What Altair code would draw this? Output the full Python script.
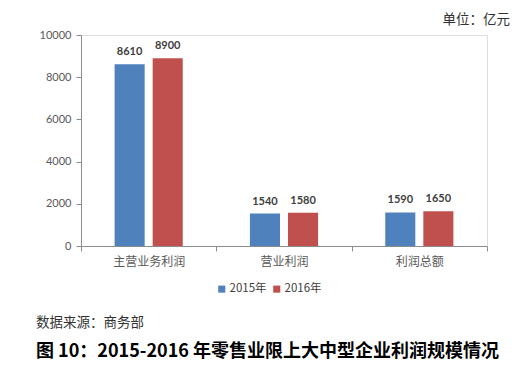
import altair as alt
import pandas as pd

categories = ["主营业务利润", "营业利润", "利润总额"]
years = ["2015年", "2016年"]
values_2015 = [8610, 1540, 1590]
values_2016 = [8900, 1580, 1650]
y_ticks = [0, 2000, 4000, 6000, 8000, 10000]

rows = []
for c, a, b in zip(categories, values_2015, values_2016):
    rows.append({"cat": c, "year": years[0], "v": a})
    rows.append({"cat": c, "year": years[1], "v": b})
df = pd.DataFrame(rows)

NUM_FONT = "Lato"
CJK = "Noto Sans CJK SC"

x = alt.X("cat:N", sort=categories, title=None,
          scale=alt.Scale(paddingInner=0, paddingOuter=0),
          axis=alt.Axis(labelAngle=0, labelFont=CJK, labelFontSize=12, labelColor="#595959",
                        domainColor="#8c8c8c", tickColor="#8c8c8c", tickSize=5,
                        tickBand="extent", labelPadding=5, grid=False))
xo = alt.XOffset("year:N", sort=years,
                 scale=alt.Scale(paddingInner=0.2105, paddingOuter=0.882))
y = alt.Y("v:Q", title=None,
          scale=alt.Scale(domain=[0, 10000], nice=False),
          axis=alt.Axis(values=y_ticks, format="d", labelFont=NUM_FONT, labelFontSize=11,
                        labelColor="#595959", domainColor="#8c8c8c", tickColor="#8c8c8c",
                        tickSize=5, labelPadding=5, grid=False))
color = alt.Color("year:N", sort=years,
                  scale=alt.Scale(domain=years, range=["#4F81BD", "#C0504D"]),
                  legend=alt.Legend(title=None, orient="none", legendX=135, legendY=248,
                                    direction="horizontal", symbolType="square", symbolSize=50,
                                    symbolStrokeWidth=0, labelFont=CJK, labelFontSize=11.5,
                                    labelColor="#404040", columnPadding=4, symbolOffset=0,
                                    labelOffset=2))

base = alt.Chart(df)
bars = base.mark_bar().encode(x=x, xOffset=xo, y=y, color=color)
labels = base.mark_text(baseline="bottom", dy=-7, font=NUM_FONT, fontWeight="bold",
                        fontSize=11, color="#404040").encode(
    x=alt.X("cat:N", sort=categories), xOffset=xo, y="v:Q", text="v:Q")

unit = alt.Chart(pd.DataFrame({"t": ["单位：亿元"]})).mark_text(
    align="right", baseline="middle", font=CJK, fontSize=13.5, color="#333333").encode(
    x=alt.value(429), y=alt.value(-15), text="t:N")
source = alt.Chart(pd.DataFrame({"t": ["数据来源：商务部"]})).mark_text(
    align="left", baseline="middle", font=CJK, fontSize=13.5, color="#333333").encode(
    x=alt.value(-45), y=alt.value(288), text="t:N")
title = alt.Chart(pd.DataFrame({"t": ["图 10：2015-2016 年零售业限上大中型企业利润规模情况"]})).mark_text(
    align="left", baseline="middle", font=CJK, fontSize=18, fontWeight="bold", color="#000000").encode(
    x=alt.value(-45), y=alt.value(317), text="t:N")

chart = alt.layer(bars, labels, unit, source, title).properties(
    width=406, height=211,
    autosize=alt.AutoSizeParams(type="none"),
    padding={"left": 73, "top": 27, "right": 37, "bottom": 116},
).configure_view(stroke=None).configure(background="white")

chart.save("out.html", embed_options={"renderer": "svg", "actions": False})
